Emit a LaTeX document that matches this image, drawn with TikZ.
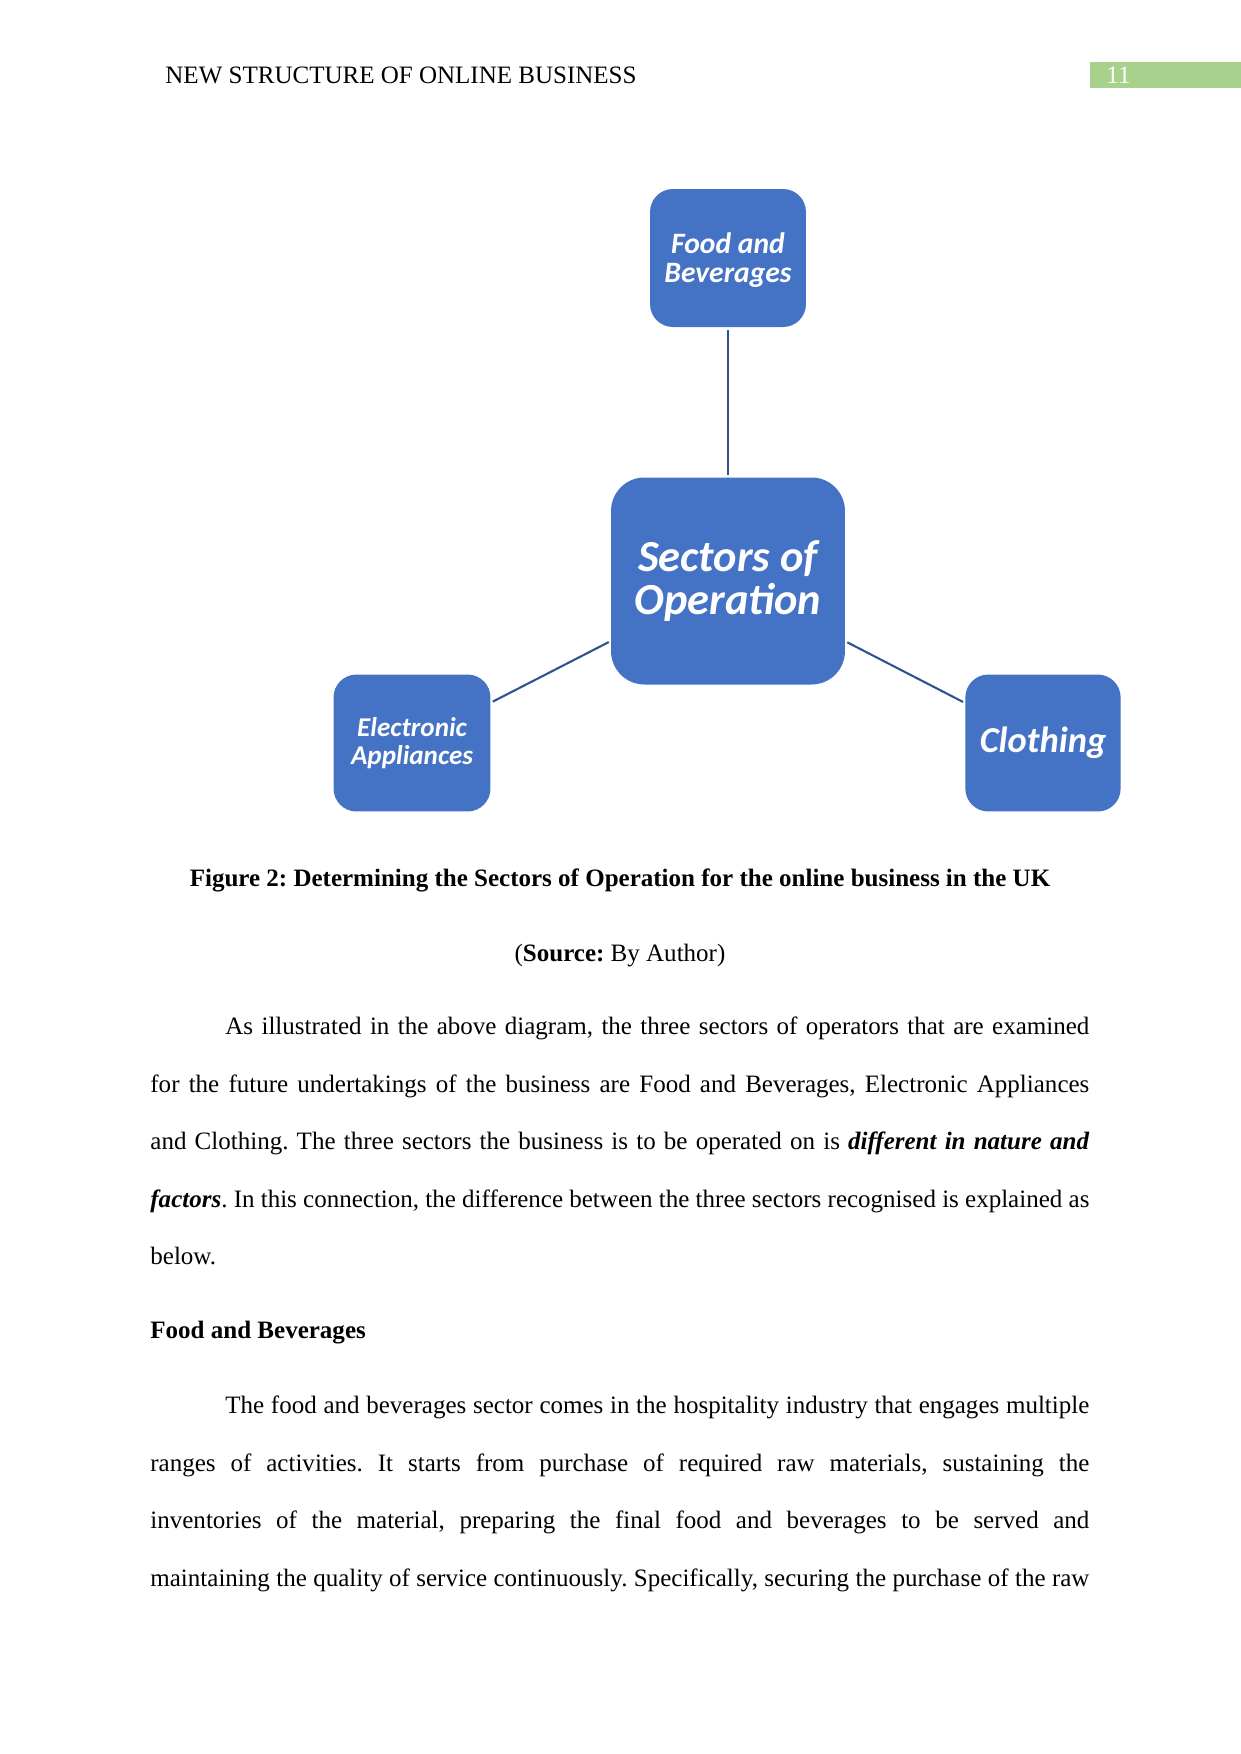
\documentclass[tikz,border=0pt]{standalone}
\usepackage{fontspec}
\setmainfont{Liberation Serif}
\newfontfamily\boxfont{Carlito}
\definecolor{boxblue}{HTML}{4472C4}
\definecolor{linkblue}{HTML}{2F528F}
\definecolor{hdrgreen}{HTML}{A9D18E}
\newcommand{\jl}[2]{\makebox[#1][s]{#2}}
\frenchspacing
\begin{document}
\begin{tikzpicture}[x=0.47968pt,y=-0.47968pt,
  sector/.style={fill=boxblue, rounded corners=11pt, text=white, align=center, inner sep=0pt},
  link/.style={draw=linkblue, line width=1pt, shorten <=1pt, shorten >=1pt},
  txt/.style={anchor=base west, inner sep=0pt, font=\fontsize{12}{14}\selectfont},
  ctxt/.style={anchor=base, inner sep=0pt, font=\fontsize{12}{14}\selectfont}]
\useasboundingbox (0,0) rectangle (1241,1754);
% header
\node[txt] (hdr) at (165,83) {NEW STRUCTURE OF ONLINE BUSINESS};
\fill[hdrgreen] (1090,62) rectangle (1241,88);
\node[txt, text=white] (pg) at (1106,83) {11};
% diagram
\node[sector, minimum width=74.8pt, minimum height=66.2pt, text depth=0pt,
  font=\boxfont\bfseries\itshape\fontsize{14.2}{14}\selectfont] (food) at (728,258) {Food and\\Beverages};
\node[sector, rounded corners=16pt, minimum width=112.2pt, minimum height=99.3pt,
  font=\boxfont\bfseries\itshape\fontsize{21.3}{21}\selectfont] (sec) at (728,581) {Sectors of\\Operation};
\node[sector, minimum width=75.3pt, minimum height=65.7pt,
  font=\boxfont\bfseries\itshape\fontsize{13}{13.5}\selectfont] (elec) at (412,743) {Electronic\\Appliances};
\node[sector, minimum width=74.5pt, minimum height=65.7pt,
  font=\boxfont\bfseries\itshape\fontsize{17.5}{18}\selectfont] (cloth) at (1043,743) {Clothing};
\draw[link] (food) -- (sec);
\draw[link] (elec) -- (sec);
\draw[link] (sec) -- (cloth);
% caption
\node[ctxt, font=\fontsize{12}{14}\selectfont\bfseries] (cap) at (620,886) {Figure 2: Determining the Sectors of Operation for the online business in the UK};
\node[ctxt] (src) at (620,961) {(\textbf{Source:} By Author)};
% paragraph 1
\node[txt] (p1a) at (225,1034.5) {\jl{414.4pt}{As illustrated in the above diagram, the three sectors of operators that are examined}};
\node[txt] (p1b) at (150,1092.1) {\jl{450.4pt}{for the future undertakings of the business are Food and Beverages, Electronic Appliances}};
\node[txt] (p1c) at (150,1149.7) {\jl{450.4pt}{and Clothing. The three sectors the business is to be operated on is \textbf{\textit{different in nature and}}}};
\node[txt] (p1d) at (150,1207.3) {\jl{450.4pt}{\textbf{\textit{factors}}. In this connection, the difference between the three sectors recognised is explained as}};
\node[txt] (p1e) at (150,1264.9) {below.};
% heading
\node[txt, font=\fontsize{12}{14}\selectfont\bfseries] (h2) at (150,1338.5) {Food and Beverages};
% paragraph 2
\node[txt] (p2a) at (225,1413.5) {\jl{414.4pt}{The food and beverages sector comes in the hospitality industry that engages multiple}};
\node[txt] (p2b) at (150,1471.1) {\jl{450.4pt}{ranges of activities. It starts from purchase of required raw materials, sustaining the}};
\node[txt] (p2c) at (150,1528.7) {\jl{450.4pt}{inventories of the material, preparing the final food and beverages to be served and}};
\node[txt] (p2d) at (150,1586.3) {\jl{450.4pt}{maintaining the quality of service continuously. Specifically, securing the purchase of the raw}};
\end{tikzpicture}
\end{document}
